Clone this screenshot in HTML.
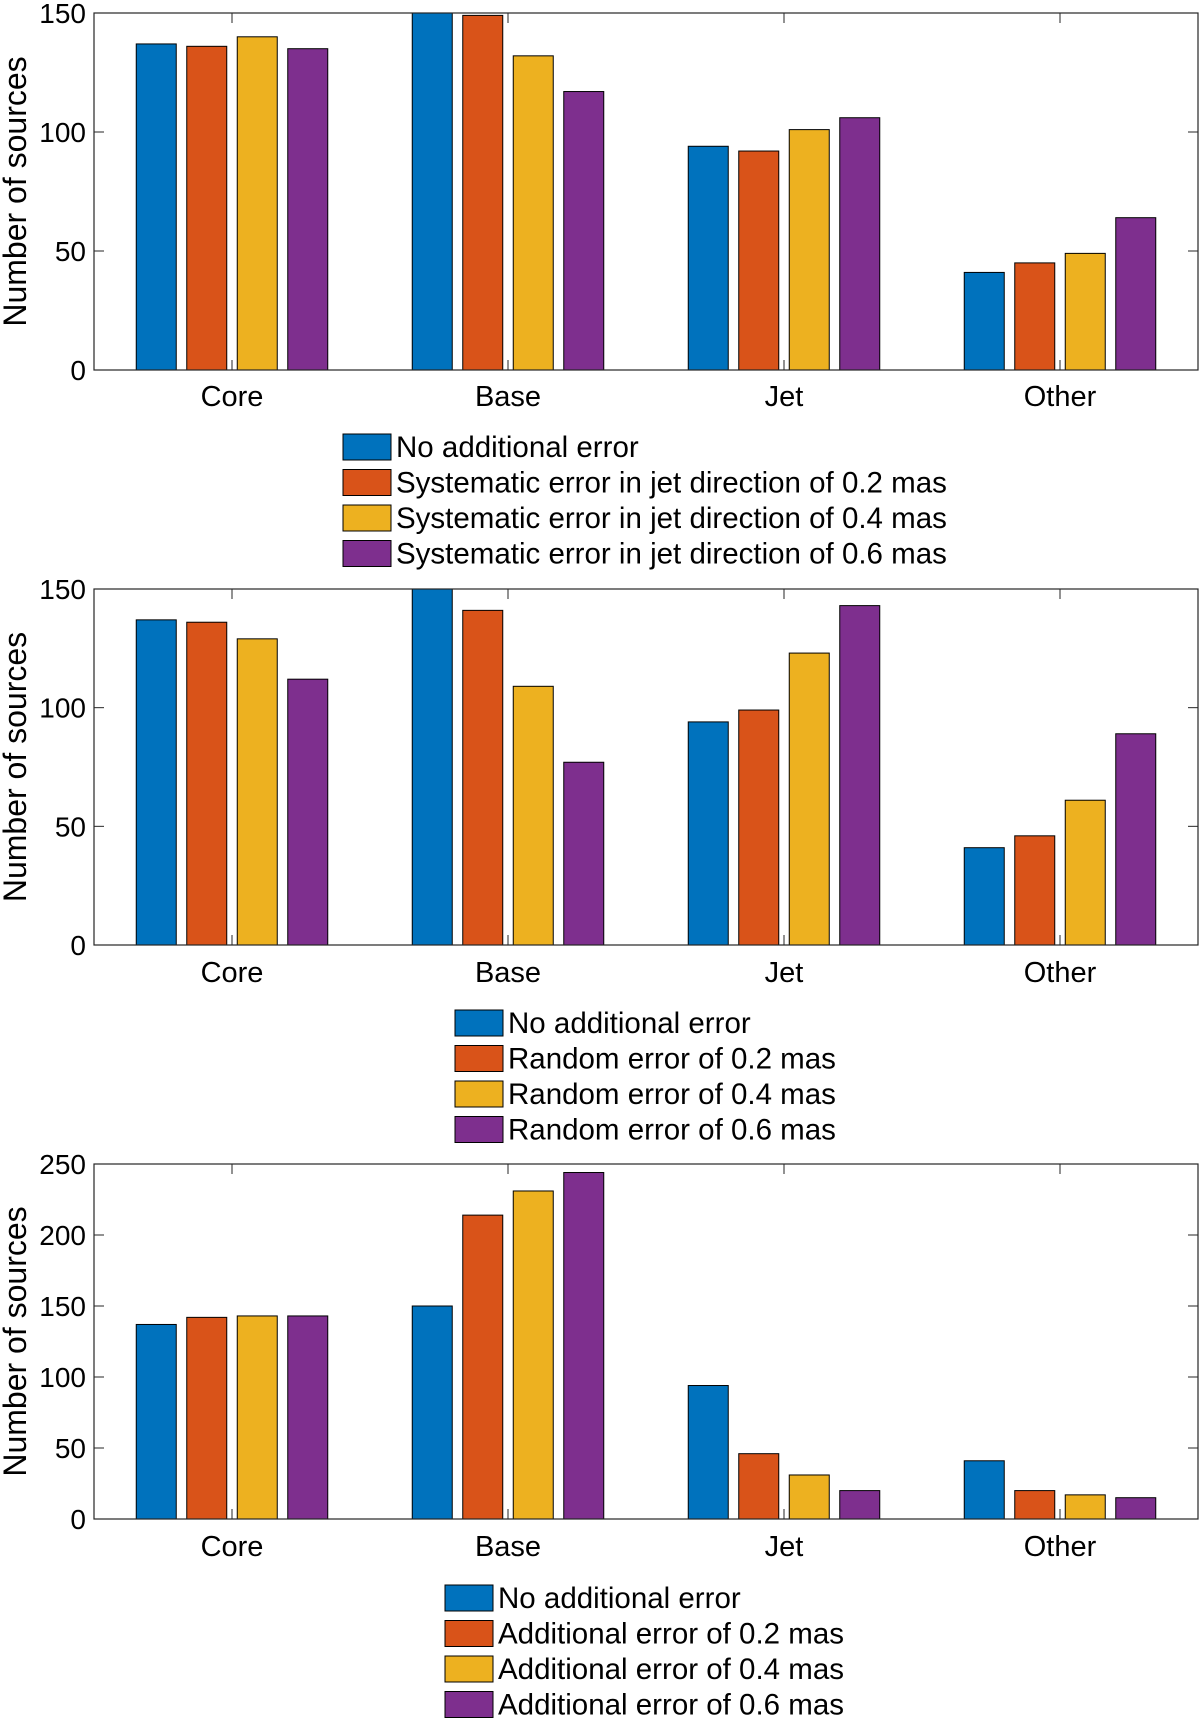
<!DOCTYPE html>
<html><head><meta charset="utf-8"><style>
html,body{margin:0;padding:0;background:#fff;}
svg{display:block;font-family:"Liberation Sans",Arial,sans-serif;}
</style></head><body>
<svg id="chart" width="1200" height="1719" viewBox="0 0 1200 1719" xmlns="http://www.w3.org/2000/svg"></svg>
<script>
const categories = ["Core","Base","Jet","Other"];
const colors = ["#0072BD","#D95319","#EDB120","#7E2F8E"];
const p1Values = [[137,150,94,41],[136,149,92,45],[140,132,101,49],[135,117,106,64]];
const p2Values = [[137,150,94,41],[136,141,99,46],[129,109,123,61],[112,77,143,89]];
const p3Values = [[137,150,94,41],[142,214,46,20],[143,231,31,17],[143,244,20,15]];
const p1Ticks = [0,50,100,150];
const p2Ticks = [0,50,100,150];
const p3Ticks = [0,50,100,150,200,250];
const p1Legend = ["No additional error","Systematic error in jet direction of 0.2 mas","Systematic error in jet direction of 0.4 mas","Systematic error in jet direction of 0.6 mas"];
const p2Legend = ["No additional error","Random error of 0.2 mas","Random error of 0.4 mas","Random error of 0.6 mas"];
const p3Legend = ["No additional error","Additional error of 0.2 mas","Additional error of 0.4 mas","Additional error of 0.6 mas"];

const NS="http://www.w3.org/2000/svg";
const svg=document.getElementById('chart');
function mk(tag,attrs,parent){const e=document.createElementNS(NS,tag);for(const k in attrs)e.setAttribute(k,attrs[k]);(parent||svg).appendChild(e);return e;}

const L=94,R=1198;
function panel(idx,top,bottom,ymax,values,ticks,legend,catY,legX,legY0){
  const g=mk('g',{});
  
  
  const xs=i=>L+(R-L)/categories.length*(i+0.5);
  const ys=v=>bottom-(bottom-top)*v/ymax;
  const step=50.5,bw=40;
  for(let s=0;s<values.length;s++){
    for(let c=0;c<categories.length;c++){
      const cx=xs(c)+(s-1.5)*step;
      const r=mk('rect',{x:cx-bw/2,y:ys(values[s][c]),width:bw,height:bottom-ys(values[s][c]),fill:colors[s],stroke:'#000','stroke-width':1},g);
      
      
    }
  }
  const box=mk('rect',{x:L,y:top,width:R-L,height:bottom-top,fill:'none',stroke:'#262626','stroke-width':1.2},g);
  
  
  for(const t of ticks){
    const y=ys(t);
    mk('line',{x1:L,x2:L+10,y1:y,y2:y,stroke:'#262626'},g);
    mk('line',{x1:R,x2:R-10,y1:y,y2:y,stroke:'#262626'},g);
    const tl=mk('text',{x:L-8,y:y+10,'text-anchor':'end','font-size':28,fill:'#000'},g);
    tl.textContent=t;
    
    
  }
  for(let c=0;c<categories.length;c++){
    const x=xs(c);
    mk('line',{x1:x,x2:x,y1:bottom,y2:bottom-10,stroke:'#262626'},g);
    mk('line',{x1:x,x2:x,y1:top,y2:top+10,stroke:'#262626'},g);
    const cl=mk('text',{x:x,y:catY+10,'text-anchor':'middle','font-size':29,fill:'#000'},g);
    cl.textContent=categories[c];
    
    
  }
  const yl=mk('text',{x:0,y:0,transform:`translate(26,${(top+bottom)/2}) rotate(-90)`,'text-anchor':'middle','font-size':32,fill:'#000'},g);
  yl.textContent='Number of sources';
  
  
  for(let s=0;s<legend.length;s++){
    const y=legY0+s*35.5;
    const sw=mk('rect',{x:legX,y:y-13,width:48,height:26,fill:colors[s],stroke:'#000','stroke-width':1},g);
    
    
    const lt=mk('text',{x:legX+53,y:y+10,'font-size':29.5,fill:'#000'},g);
    lt.textContent=legend[s];
    
    
  }
}
panel(1,13,370,150,p1Values,p1Ticks,p1Legend,396,343,447);
panel(2,589,945,150,p2Values,p2Ticks,p2Legend,972,455,1023);
panel(3,1164,1519,250,p3Values,p3Ticks,p3Legend,1546,445,1598);
</script>
</body></html>
